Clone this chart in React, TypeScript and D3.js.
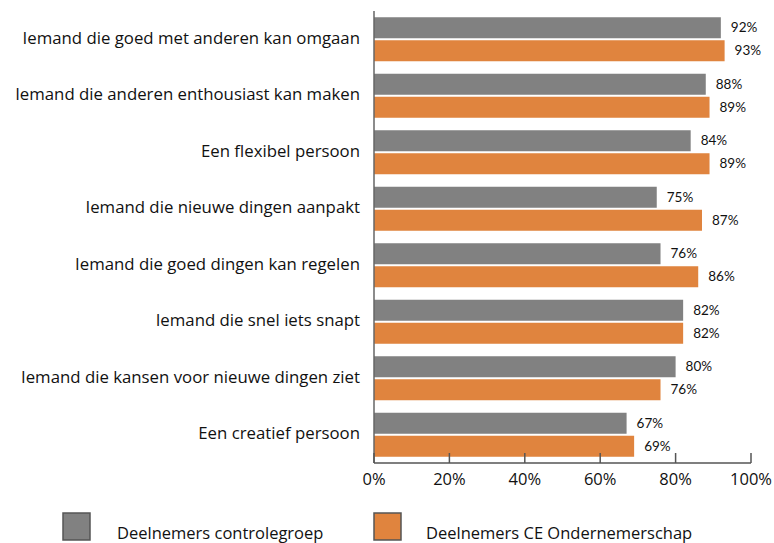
import React from "react";
import * as d3 from "d3";

const categories = [
  "Iemand die goed met anderen kan omgaan",
  "Iemand die anderen enthousiast kan maken",
  "Een flexibel persoon",
  "Iemand die nieuwe dingen aanpakt",
  "Iemand die goed dingen kan regelen",
  "Iemand die snel iets snapt",
  "Iemand die kansen voor nieuwe dingen ziet",
  "Een creatief persoon",
];
const controlValues = [92, 88, 84, 75, 76, 82, 80, 67];
const ceValues = [93, 89, 89, 87, 86, 82, 76, 69];
const seriesNames = ["Deelnemers controlegroep", "Deelnemers CE Ondernemerschap"];
const tickValues = [0, 20, 40, 60, 80, 100];

const GRAY = "#818181";
const ORANGE = "#E0843E";
const FONT = "'Open Sans', Lato, sans-serif";

export default function App() {
  const W = 774, H = 543;
  const x0 = 374, x1 = 751;
  const yTop = 11, yBot = 463;
  const x = d3.scaleLinear().domain([0, 100]).range([x0, x1]);
  const y = d3.scaleBand<string>().domain(categories).range([yTop, yBot]);
  const bw = y.bandwidth();
  const barH = 21;
  const gap = 2;
  const groupH = barH * 2 + gap;
  const off = (bw - groupH) / 2;

  return (
    <svg width={W} height={H} style={{ position: "absolute", left: 0, top: 0 }} fontFamily={FONT}>
      <rect width={W} height={H} fill="#fff" />
      {categories.map((c, i) => {
        const gy = (y(c) as number) + off;
        return (
          <g key={c}>
            <text x={360} y={gy + barH + 1} textAnchor="end" dominantBaseline="middle" fontSize={16.8} fill="#111">
              {c}
            </text>
            <rect x={x(0)} y={gy} width={x(controlValues[i]) - x(0)} height={barH} fill={GRAY} />
            <rect x={x(0)} y={gy + barH + gap} width={x(ceValues[i]) - x(0)} height={barH} fill={ORANGE} />
            <text x={x(controlValues[i]) + 10} y={gy + barH / 2 + 1} dominantBaseline="middle" fontSize={13.5} fontFamily="Lato, sans-serif" fill="#111">
              {controlValues[i]}%
            </text>
            <text x={x(ceValues[i]) + 10} y={gy + barH + gap + barH / 2 + 1} dominantBaseline="middle" fontSize={13.5} fontFamily="Lato, sans-serif" fill="#111">
              {ceValues[i]}%
            </text>
          </g>
        );
      })}
      <line x1={x0} x2={x0} y1={yTop} y2={yBot} stroke="#666" strokeWidth={1.5} />
      <line x1={x0} x2={x1} y1={yBot} y2={yBot} stroke="#555" strokeWidth={1.5} />
      {tickValues.map((t) => (
        <g key={t}>
          <line x1={x(t)} x2={x(t)} y1={yBot - 10} y2={yBot} stroke="#555" strokeWidth={1.5} />
          <text x={x(t)} y={485} textAnchor="middle" fontSize={16.5} fill="#111">
            {t}%
          </text>
        </g>
      ))}
      <rect x={63} y={513} width={27} height={27} fill={GRAY} stroke="#555" strokeWidth={1.5} />
      <text x={117} y={539} fontSize={16.5} fill="#111">{seriesNames[0]}</text>
      <rect x={374} y={513} width={27} height={27} fill={ORANGE} stroke="#555" strokeWidth={1.5} />
      <text x={426} y={539} fontSize={16.5} fill="#111">{seriesNames[1]}</text>
    </svg>
  );
}
